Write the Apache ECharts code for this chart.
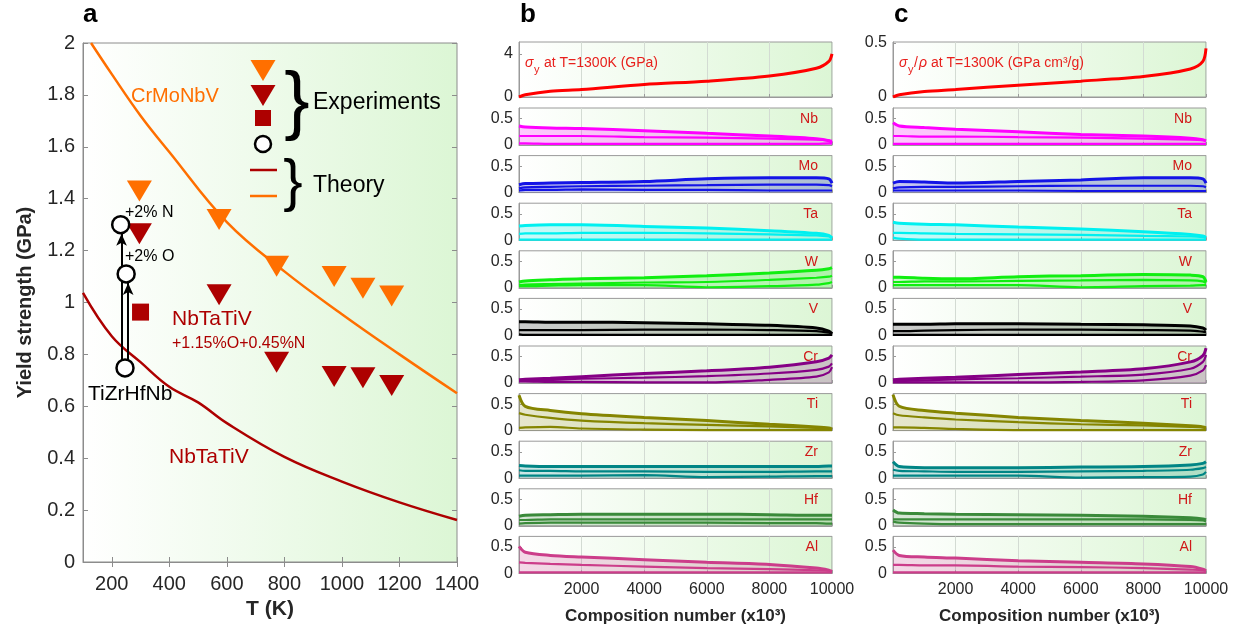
<!DOCTYPE html>
<html>
<head>
<meta charset="utf-8">
<script src="https://cdn.jsdelivr.net/npm/echarts@6/dist/echarts.min.js"></script>
<style>
html,body{margin:0;padding:0;background:#fff}
#chart{width:1239px;height:634px}
</style>
</head>
<body>
<div id="chart"></div>
<script>
// ---- panel a: yield strength vs temperature ----
var tempTicks = [200, 400, 600, 800, 1000, 1200, 1400];
var crmonbvTheoryT = [128, 200, 300, 400, 600, 800, 1000, 1200, 1400];
var crmonbvTheoryY = [2.0, 1.88, 1.72, 1.58, 1.31, 1.12, 0.955, 0.80, 0.65];
var nbtativTheoryT = [100, 200, 300, 400, 500, 600, 800, 1000, 1200, 1400];
var nbtativTheoryY = [1.037, 0.87, 0.77, 0.675, 0.615, 0.535, 0.405, 0.31, 0.23, 0.162];
var crmonbvExpT = [296, 573, 773, 973, 1073, 1173];
var crmonbvExpY = [1.43, 1.32, 1.14, 1.10, 1.055, 1.025];
var nbtativONExpT = [296, 573, 773, 973, 1073, 1173];
var nbtativONExpY = [1.265, 1.03, 0.77, 0.715, 0.71, 0.68];
var squareT = [300];
var squareY = [0.963];
var tizrhfnbT = [246, 250, 231];       // base, +2% O, +2% N
var tizrhfnbY = [0.748, 1.11, 1.30];
var arrowT = [234, 257];               // x of the two arrows (to +2% N, to +2% O)

// ---- panels b, c: composition number axis ----
var compX = [0, 200, 1000, 2000, 4000, 6000, 8000, 9500, 9900, 10000];
var elements = ['Nb', 'Mo', 'Ta', 'W', 'V', 'Cr', 'Ti', 'Zr', 'Hf', 'Al'];
var smallTicks = [0, 0.5];

// b: sigma_y at 1300K (GPa)
var sigmaB = [0, 0.2, 0.53, 0.69, 1.16, 1.47, 1.94, 2.66, 3.3, 4.0];
var bNbUp  = [0.36, 0.34, 0.32, 0.31, 0.27, 0.22, 0.17, 0.12, 0.08, 0.04];
var bNbMid = [0.17, 0.17, 0.17, 0.17, 0.15, 0.14, 0.12, 0.10, 0.09, 0.08];
var bNbLo  = [0.03, 0.03, 0.02, 0.02, 0.02, 0.02, 0.02, 0.02, 0.03, 0.03];
var bMoUp  = [0.15, 0.17, 0.18, 0.19, 0.21, 0.26, 0.28, 0.28, 0.26, 0.18];
var bMoMid = [0.08, 0.10, 0.11, 0.12, 0.13, 0.14, 0.15, 0.15, 0.14, 0.12];
var bMoLo  = [0.04, 0.05, 0.05, 0.06, 0.05, 0.05, 0.04, 0.04, 0.04, 0.04];
var bTaUp  = [0.27, 0.28, 0.29, 0.29, 0.26, 0.23, 0.18, 0.13, 0.09, 0.04];
var bTaMid = [0.12, 0.13, 0.13, 0.14, 0.14, 0.13, 0.11, 0.09, 0.07, 0.05];
var bTaLo  = [0.01, 0.01, 0.01, 0.01, 0.01, 0.01, 0.01, 0.01, 0.01, 0.01];
var bWUp   = [0.11, 0.13, 0.15, 0.17, 0.19, 0.23, 0.28, 0.33, 0.36, 0.38];
var bWMid  = [0.05, 0.06, 0.07, 0.08, 0.10, 0.11, 0.15, 0.19, 0.21, 0.23];
var bWLo   = [0.03, 0.03, 0.04, 0.05, 0.05, 0.01, 0.03, 0.06, 0.09, 0.11];
var bVUp   = [0.26, 0.26, 0.25, 0.25, 0.24, 0.22, 0.19, 0.14, 0.08, 0.03];
var bVMid  = [0.10, 0.10, 0.10, 0.10, 0.11, 0.11, 0.10, 0.08, 0.05, 0.03];
var bVLo   = [0.02, 0.01, 0.01, 0.01, 0.01, 0.01, 0.01, 0.01, 0.01, 0.01];
var bCrUp  = [0.06, 0.07, 0.09, 0.12, 0.18, 0.23, 0.30, 0.40, 0.47, 0.53];
var bCrMid = [0.05, 0.05, 0.06, 0.08, 0.10, 0.13, 0.18, 0.25, 0.31, 0.37];
var bCrLo  = [0.03, 0.03, 0.02, 0.02, 0.01, 0.01, 0.06, 0.12, 0.20, 0.30];
var bTiUp  = [0.67, 0.46, 0.38, 0.32, 0.25, 0.19, 0.12, 0.07, 0.05, 0.03];
var bTiMid = [0.33, 0.30, 0.24, 0.19, 0.14, 0.11, 0.08, 0.05, 0.04, 0.03];
var bTiLo  = [0.05, 0.06, 0.07, 0.04, 0.02, 0.01, 0.01, 0.01, 0.01, 0.01];
var bZrUp  = [0.24, 0.23, 0.22, 0.22, 0.22, 0.22, 0.22, 0.22, 0.23, 0.23];
var bZrMid = [0.15, 0.14, 0.14, 0.13, 0.13, 0.12, 0.12, 0.13, 0.13, 0.13];
var bZrLo  = [0.05, 0.05, 0.05, 0.05, 0.06, 0.02, 0.03, 0.04, 0.04, 0.04];
var bHfUp  = [0.18, 0.20, 0.21, 0.22, 0.22, 0.22, 0.21, 0.20, 0.20, 0.20];
var bHfMid = [0.11, 0.11, 0.12, 0.12, 0.12, 0.12, 0.12, 0.12, 0.12, 0.12];
var bHfLo  = [0.04, 0.05, 0.06, 0.06, 0.06, 0.06, 0.05, 0.05, 0.04, 0.04];
var bAlUp  = [0.51, 0.40, 0.34, 0.31, 0.26, 0.21, 0.17, 0.10, 0.06, 0.04];
var bAlMid = [0.21, 0.20, 0.18, 0.16, 0.13, 0.10, 0.08, 0.06, 0.05, 0.04];
var bAlLo  = [0.02, 0.02, 0.02, 0.02, 0.02, 0.02, 0.02, 0.02, 0.02, 0.02];

// c: sigma_y / rho at 1300K (GPa cm3/g)
var specC  = [0, 0.02, 0.05, 0.069, 0.11, 0.147, 0.19, 0.26, 0.33, 0.45];
var cNbUp  = [0.42, 0.36, 0.33, 0.30, 0.25, 0.20, 0.17, 0.13, 0.10, 0.08];
var cNbMid = [0.17, 0.17, 0.16, 0.16, 0.15, 0.14, 0.12, 0.10, 0.09, 0.08];
var cNbLo  = [0.02, 0.02, 0.02, 0.02, 0.02, 0.02, 0.02, 0.02, 0.02, 0.02];
var cMoUp  = [0.18, 0.21, 0.20, 0.18, 0.21, 0.24, 0.28, 0.28, 0.26, 0.18];
var cMoMid = [0.08, 0.10, 0.11, 0.11, 0.12, 0.13, 0.13, 0.13, 0.12, 0.10];
var cMoLo  = [0.04, 0.04, 0.04, 0.04, 0.04, 0.03, 0.03, 0.03, 0.03, 0.03];
var cTaUp  = [0.34, 0.32, 0.30, 0.29, 0.25, 0.21, 0.16, 0.11, 0.08, 0.05];
var cTaMid = [0.14, 0.14, 0.13, 0.12, 0.11, 0.10, 0.08, 0.07, 0.06, 0.05];
var cTaLo  = [0.05, 0.03, 0.01, 0.01, 0.01, 0.01, 0.01, 0.01, 0.01, 0.01];
var cWUp   = [0.20, 0.20, 0.18, 0.17, 0.21, 0.23, 0.25, 0.24, 0.21, 0.11];
var cWMid  = [0.11, 0.11, 0.12, 0.12, 0.13, 0.14, 0.15, 0.14, 0.12, 0.09];
var cWLo   = [0.05, 0.05, 0.05, 0.05, 0.05, 0.01, 0.03, 0.04, 0.05, 0.05];
var cVUp   = [0.21, 0.21, 0.21, 0.22, 0.22, 0.21, 0.20, 0.18, 0.14, 0.10];
var cVMid  = [0.08, 0.08, 0.09, 0.10, 0.11, 0.11, 0.10, 0.09, 0.07, 0.06];
var cVLo   = [0.01, 0.01, 0.01, 0.01, 0.01, 0.01, 0.01, 0.01, 0.01, 0.01];
var cCrUp  = [0.06, 0.07, 0.09, 0.11, 0.16, 0.21, 0.27, 0.40, 0.52, 0.66];
var cCrMid = [0.03, 0.04, 0.05, 0.07, 0.09, 0.12, 0.16, 0.27, 0.40, 0.53];
var cCrLo  = [0.01, 0.01, 0.01, 0.01, 0.01, 0.02, 0.05, 0.14, 0.24, 0.34];
var cTiUp  = [0.68, 0.46, 0.38, 0.33, 0.25, 0.19, 0.14, 0.09, 0.07, 0.05];
var cTiMid = [0.33, 0.29, 0.25, 0.21, 0.16, 0.12, 0.10, 0.07, 0.06, 0.05];
var cTiLo  = [0.06, 0.06, 0.05, 0.03, 0.01, 0.01, 0.01, 0.01, 0.01, 0.01];
var cZrUp  = [0.31, 0.22, 0.20, 0.20, 0.20, 0.21, 0.22, 0.25, 0.28, 0.31];
var cZrMid = [0.16, 0.14, 0.13, 0.12, 0.12, 0.13, 0.14, 0.16, 0.19, 0.21];
var cZrLo  = [0.05, 0.05, 0.05, 0.05, 0.05, 0.01, 0.02, 0.03, 0.07, 0.12];
var cHfUp  = [0.30, 0.24, 0.23, 0.22, 0.21, 0.20, 0.18, 0.15, 0.13, 0.11];
var cHfMid = [0.12, 0.12, 0.12, 0.12, 0.12, 0.12, 0.12, 0.11, 0.10, 0.08];
var cHfLo  = [0.08, 0.06, 0.04, 0.03, 0.03, 0.03, 0.03, 0.03, 0.03, 0.03];
var cAlUp  = [0.44, 0.34, 0.31, 0.29, 0.24, 0.21, 0.18, 0.13, 0.08, 0.05];
var cAlMid = [0.16, 0.16, 0.15, 0.15, 0.13, 0.12, 0.10, 0.07, 0.06, 0.05];
var cAlLo  = [0.02, 0.02, 0.02, 0.02, 0.02, 0.02, 0.02, 0.02, 0.02, 0.02];

var bandsB = [[bNbLo, bNbMid, bNbUp], [bMoLo, bMoMid, bMoUp], [bTaLo, bTaMid, bTaUp], [bWLo, bWMid, bWUp], [bVLo, bVMid, bVUp],
              [bCrLo, bCrMid, bCrUp], [bTiLo, bTiMid, bTiUp], [bZrLo, bZrMid, bZrUp], [bHfLo, bHfMid, bHfUp], [bAlLo, bAlMid, bAlUp]];
var bandsC = [[cNbLo, cNbMid, cNbUp], [cMoLo, cMoMid, cMoUp], [cTaLo, cTaMid, cTaUp], [cWLo, cWMid, cWUp], [cVLo, cVMid, cVUp],
              [cCrLo, cCrMid, cCrUp], [cTiLo, cTiMid, cTiUp], [cZrLo, cZrMid, cZrUp], [cHfLo, cHfMid, cHfUp], [cAlLo, cAlMid, cAlUp]];

// styles
var elColors = ['#ff00ff', '#1414e6', '#00f0f0', '#10ee10', '#000000', '#850085', '#858500', '#008585', '#3a8a3a', '#cc3d8a'];
var elFills  = ['rgba(255,0,255,0.22)', 'rgba(30,30,200,0.25)', 'rgba(0,230,230,0.22)', 'rgba(20,230,20,0.22)', 'rgba(0,0,0,0.2)',
                'rgba(130,0,130,0.2)', 'rgba(130,130,0,0.2)', 'rgba(0,130,130,0.2)', 'rgba(50,130,50,0.2)', 'rgba(200,60,140,0.2)'];
var FONT = '"Liberation Sans", Arial, sans-serif';
var ORANGE = '#ff6f00';
var DARKRED = '#ad0000';
var AXIS = '#8c8c8c';
var TXT = '#262626';

function zip(xs, ys) { return xs.map(function (x, i) { return [x, ys[i]]; }); }
function plain(v) { return String(v); }
function bg() {
  return new echarts.graphic.LinearGradient(0, 0, 1, 0, [
    { offset: 0, color: '#ffffff' }, { offset: 1, color: '#dcf6d5' }
  ]);
}

var chart = echarts.init(document.getElementById('chart'));
var grids = [], xAxes = [], yAxes = [], series = [], graphics = [];

// ---------- panel a ----------
grids.push({ left: 83, top: 43, width: 374, height: 519, show: true, backgroundColor: bg(), borderColor: AXIS, borderWidth: 1 });
xAxes.push({
  gridIndex: 0, type: 'value', min: 100, max: 1400,
  name: 'T (K)', nameLocation: 'middle', nameGap: 33,
  nameTextStyle: { fontFamily: FONT, fontSize: 21, fontWeight: 'bold', color: TXT },
  axisLine: { onZero: false, lineStyle: { color: AXIS } },
  axisTick: { inside: true, length: 5, customValues: tempTicks, lineStyle: { color: AXIS } },
  axisLabel: { customValues: tempTicks, formatter: plain, fontFamily: FONT, fontSize: 20, color: TXT, margin: 12 },
  splitLine: { show: false }
});
yAxes.push({
  gridIndex: 0, type: 'value', min: 0, max: 2, interval: 0.2,
  name: 'Yield strength (GPa)', nameLocation: 'middle', nameGap: 48,
  nameTextStyle: { fontFamily: FONT, fontSize: 20, fontWeight: 'bold', color: TXT },
  axisLine: { show: true, lineStyle: { color: AXIS } },
  axisTick: { show: true, inside: true, length: 5, lineStyle: { color: AXIS } },
  axisLabel: { fontFamily: FONT, fontSize: 20, color: TXT, margin: 8 },
  splitLine: { show: false }
});

series.push({
  type: 'line', xAxisIndex: 0, yAxisIndex: 0, data: zip(crmonbvTheoryT, crmonbvTheoryY),
  smooth: 0.4, symbol: 'none', lineStyle: { color: ORANGE, width: 2.5 }, z: 3
});
series.push({
  type: 'line', xAxisIndex: 0, yAxisIndex: 0, data: zip(nbtativTheoryT, nbtativTheoryY),
  smooth: 0.4, symbol: 'none', lineStyle: { color: DARKRED, width: 2.5 }, z: 3
});
series.push({
  type: 'scatter', xAxisIndex: 0, yAxisIndex: 0, data: zip(crmonbvExpT, crmonbvExpY),
  symbol: 'triangle', symbolRotate: 180, symbolSize: [25, 21], itemStyle: { color: ORANGE, opacity: 1 }, z: 4
});
series.push({
  type: 'scatter', xAxisIndex: 0, yAxisIndex: 0, data: zip(nbtativONExpT, nbtativONExpY),
  symbol: 'triangle', symbolRotate: 180, symbolSize: [25, 21], itemStyle: { color: DARKRED, opacity: 1 }, z: 4
});
series.push({
  type: 'scatter', xAxisIndex: 0, yAxisIndex: 0, data: zip(squareT, squareY),
  symbol: 'rect', symbolSize: 17, itemStyle: { color: DARKRED, opacity: 1 }, z: 4,
  markLine: {
    silent: true, symbol: ['none', 'arrow'], symbolSize: [8, 12],
    lineStyle: { color: '#000', width: 2, type: 'solid' }, label: { show: false },
    data: [
      [{ coord: [arrowT[0], tizrhfnbY[0]] }, { coord: [arrowT[0], tizrhfnbY[2] - 0.035] }],
      [{ coord: [arrowT[1], tizrhfnbY[0]] }, { coord: [arrowT[1], tizrhfnbY[1] - 0.035] }]
    ]
  }
});
series.push({
  type: 'scatter', xAxisIndex: 0, yAxisIndex: 0, data: zip(tizrhfnbT, tizrhfnbY),
  symbol: 'circle', symbolSize: 17, z: 6,
  itemStyle: { color: '#ffffff', borderColor: '#000000', borderWidth: 2.5, opacity: 1 }
});

// ---------- panels b and c ----------
var panels = [
  { left: 519, bands: bandsB, topVals: sigmaB, topMax: 5.1, topTicks: [0, 4] },
  { left: 893, bands: bandsC, topVals: specC, topMax: 0.51, topTicks: [0, 0.5] }
];
panels.forEach(function (p) {
  for (var k = 0; k < 11; k++) {
    var gi = grids.length;
    var top = k === 0 ? 42 : 108 + (k - 1) * 47.6;
    var h = k === 0 ? 55 : 37;
    var ticks = k === 0 ? p.topTicks : smallTicks;
    grids.push({ left: p.left, top: top, width: 313, height: h, show: true, backgroundColor: bg(), borderColor: '#9a9a9a', borderWidth: 1 });
    xAxes.push({
      gridIndex: gi, type: 'value', min: 0, max: 10000, interval: 2000,
      name: k === 10 ? 'Composition number (x10³)' : '', nameLocation: 'middle', nameGap: 34,
      nameTextStyle: { fontFamily: FONT, fontSize: 17, fontWeight: 'bold', color: TXT },
      axisLine: { onZero: false, lineStyle: { color: '#9a9a9a' } },
      axisTick: { show: true, inside: true, length: 3, lineStyle: { color: '#9a9a9a' } },
      axisLabel: { show: k === 10, showMinLabel: false, formatter: plain, fontFamily: FONT, fontSize: 16, color: TXT, margin: 8 },
      splitLine: { show: true, lineStyle: { color: '#d3dbd3', width: 1 } }
    });
    yAxes.push({
      gridIndex: gi, type: 'value', min: 0, max: k === 0 ? p.topMax : 0.7,
      axisLine: { show: true, lineStyle: { color: '#9a9a9a' } },
      axisTick: { show: true, inside: true, length: 3, customValues: ticks, lineStyle: { color: '#9a9a9a' } },
      axisLabel: { customValues: ticks, formatter: plain, fontFamily: FONT, fontSize: 16, color: TXT, margin: 6 },
      splitLine: { show: false }
    });
    if (k === 0) {
      series.push({
        type: 'line', xAxisIndex: gi, yAxisIndex: gi, data: zip(compX, p.topVals),
        smooth: 0.3, symbol: 'none', lineStyle: { color: '#ff0000', width: 3 }
      });
      continue;
    }
    var e = k - 1;
    var band = p.bands[e];
    // lower, middle, upper; the upper one carries the light fill down to the axis
    band.forEach(function (arr, j) {
      var s = {
        type: 'line', xAxisIndex: gi, yAxisIndex: gi, data: zip(compX, arr),
        smooth: 0.3, symbol: 'none', lineStyle: { color: elColors[e], width: j === 2 ? 3 : 2.2 }, z: 3 + j
      };
      if (j === 2) { s.areaStyle = { color: elFills[e], opacity: 1, origin: 'start' }; s.z = 2; }
      series.push(s);
    });
    graphics.push({
      type: 'text', x: p.left + 313 - 14, y: top + 11,
      style: { text: elements[e], font: '14px ' + FONT, fill: '#d01818', textAlign: 'right', textVerticalAlign: 'middle' }
    });
  }
});

// top / right tick marks of panel a (box style)
xAxes.push({
  gridIndex: 0, type: 'value', min: 100, max: 1400, position: 'top',
  axisLine: { show: false }, axisLabel: { show: false }, splitLine: { show: false },
  axisTick: { show: true, inside: true, length: 5, customValues: tempTicks, lineStyle: { color: AXIS } }
});
yAxes.push({
  gridIndex: 0, type: 'value', min: 0, max: 2, interval: 0.2, position: 'right',
  axisLine: { show: false }, axisLabel: { show: false }, splitLine: { show: false },
  axisTick: { show: true, inside: true, length: 5, lineStyle: { color: AXIS } }
});

// ---------- text annotations ----------
function txt(s, x, y, size, color, opts) {
  var st = { text: s, font: (opts && opts.weight ? opts.weight + ' ' : '') + size + 'px ' + FONT, fill: color,
             textAlign: (opts && opts.align) || 'left', textVerticalAlign: 'middle' };
  if (opts && opts.italic) st.font = 'italic ' + st.font;
  graphics.push({ type: 'text', x: x, y: y, z: 100, style: st });
}
txt('a', 83, 15, 26, '#000', { weight: 'bold' });
txt('b', 520, 15, 26, '#000', { weight: 'bold' });
txt('c', 894, 15, 26, '#000', { weight: 'bold' });

txt('CrMoNbV', 131, 96, 20, ORANGE);
txt('NbTaTiV', 172, 319, 21, DARKRED);
txt('+1.15%O+0.45%N', 172, 344, 16, DARKRED);
txt('NbTaTiV', 169, 457, 21, DARKRED);
txt('TiZrHfNb', 88, 394, 21, '#000');
txt('+2% N', 125, 213, 16, '#000');
txt('+2% O', 125, 257, 16, '#000');

txt('σ', 525, 63, 14, '#e8201c', { italic: true });
txt('y', 534, 70, 11, '#e8201c');
txt('at T=1300K (GPa)', 544, 63, 14, '#e8201c');
txt('σ', 899, 63, 14, '#e8201c', { italic: true });
txt('y', 908, 70, 11, '#e8201c');
txt('/', 914, 63, 14, '#e8201c');
txt('ρ', 919, 63, 14, '#e8201c', { italic: true });
txt('at T=1300K (GPa cm³/g)', 931, 63, 14, '#e8201c');

// legend of panel a
graphics.push({ type: 'polygon', z: 100, shape: { points: [[250.5, 60], [275.5, 60], [263, 81]] }, style: { fill: ORANGE } });
graphics.push({ type: 'polygon', z: 100, shape: { points: [[250.5, 85], [275.5, 85], [263, 106]] }, style: { fill: DARKRED } });
graphics.push({ type: 'rect', z: 100, shape: { x: 255, y: 110, width: 16, height: 16 }, style: { fill: DARKRED } });
graphics.push({ type: 'circle', z: 100, shape: { cx: 263, cy: 144, r: 8 }, style: { fill: '#fff', stroke: '#000', lineWidth: 2.5 } });
graphics.push({ type: 'line', z: 100, shape: { x1: 250, y1: 170, x2: 277, y2: 170 }, style: { stroke: DARKRED, lineWidth: 2.5 } });
graphics.push({ type: 'line', z: 100, shape: { x1: 250, y1: 196, x2: 277, y2: 196 }, style: { stroke: ORANGE, lineWidth: 2.5 } });
txt('}', 297, 104, 76, '#000', { align: 'center' });
txt('}', 293, 184, 58, '#000', { align: 'center' });
txt('Experiments', 313, 103, 23, '#000');
txt('Theory', 313, 186, 23, '#000');

chart.setOption({
  animation: false,
  backgroundColor: '#ffffff',
  grid: grids,
  xAxis: xAxes,
  yAxis: yAxes,
  series: series,
  graphic: graphics
});
</script>
</body>
</html>
